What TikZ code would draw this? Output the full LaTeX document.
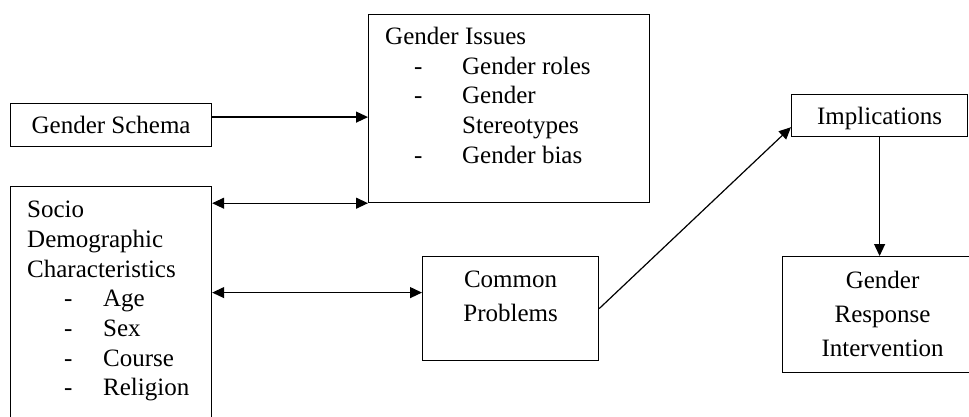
\documentclass[tikz,border=0pt]{standalone}
\usepackage{fontspec}
\setmainfont{Liberation Serif}
\usetikzlibrary{calc}
\usetikzlibrary{arrows.meta}

\newcommand{\dashitem}[3]{\makebox[#2][l]{\hspace*{#1}-}#3}

\begin{document}
\begin{tikzpicture}[x=1pt,y=-1pt,
  boxed/.style={draw,line width=1.2pt,inner sep=0pt,anchor=north west,font=\fontsize{25}{29.7}\selectfont},
  txt/.style={inner sep=0pt,align=left,anchor=north west,font=\fontsize{25}{29.7}\selectfont},
  link/.style={line width=1.2pt,-{Triangle[length=12pt,width=11pt]}},
  twoway/.style={line width=1.2pt,{Triangle[length=12pt,width=11pt]}-{Triangle[length=12pt,width=11pt]}}]

\useasboundingbox (0,0) rectangle (969,417);

\coordinate (S) at (10,103);
\coordinate (D) at (10,186);
\coordinate (G) at (368,14);
\coordinate (P) at (422,256);
\coordinate (I) at (791,94);
\coordinate (R) at (782,256);

\node[boxed,minimum width=201pt,minimum height=43pt] (schema) at (S) {Gender Schema};
\node[boxed,minimum width=201pt,minimum height=244pt] (socio) at (D) {};
\node[boxed,minimum width=281pt,minimum height=188pt] (issues) at (G) {};
\node[boxed,minimum width=176pt,minimum height=104pt] (problems) at (P) {};
\node[boxed,minimum width=176pt,minimum height=42pt,text depth=0pt] (implic) at (I) {Implications};
\node[boxed,minimum width=200pt,minimum height=116pt] (response) at (R) {};

\node[txt] (issuestext) at ($(issues.north west)+(17,13)$) {Gender Issues\\
  \dashitem{29pt}{77pt}{Gender roles}\\
  \dashitem{29pt}{77pt}{Gender}\\
  \hspace*{77pt}Stereotypes\\
  \dashitem{29pt}{77pt}{Gender bias}};
\node[txt] (sociotext) at ($(socio.north west)+(17,15)$) {Socio\\ Demographic\\ Characteristics\\
  \dashitem{37pt}{76pt}{Age}\\
  \dashitem{37pt}{76pt}{Sex}\\
  \dashitem{37pt}{76pt}{Course}\\
  \dashitem{37pt}{76pt}{Religion}};
\node[txt,align=center,anchor=north,font=\fontsize{25}{34}\selectfont] (probtext) at ($(problems.north)+(0,15)$) {Common\\ Problems};
\node[txt,align=center,anchor=north,font=\fontsize{25}{34}\selectfont] (resptext) at ($(response.north)+(0,15)$) {Gender\\ Response\\ Intervention};

\draw[link] ([yshift=8pt]schema.east) -- ([yshift=8pt]schema.east -| issues.west);
\draw[twoway] (socio.east |- issues.south west) -- (issues.south west);
\draw[twoway] ([yshift=16pt]problems.west -| socio.east) -- ([yshift=16pt]problems.west);
\draw[link] (problems.east) -- ([yshift=10pt]implic.south west);
\draw[link] (implic.south) -- (implic.south |- response.north);

\end{tikzpicture}
\end{document}
